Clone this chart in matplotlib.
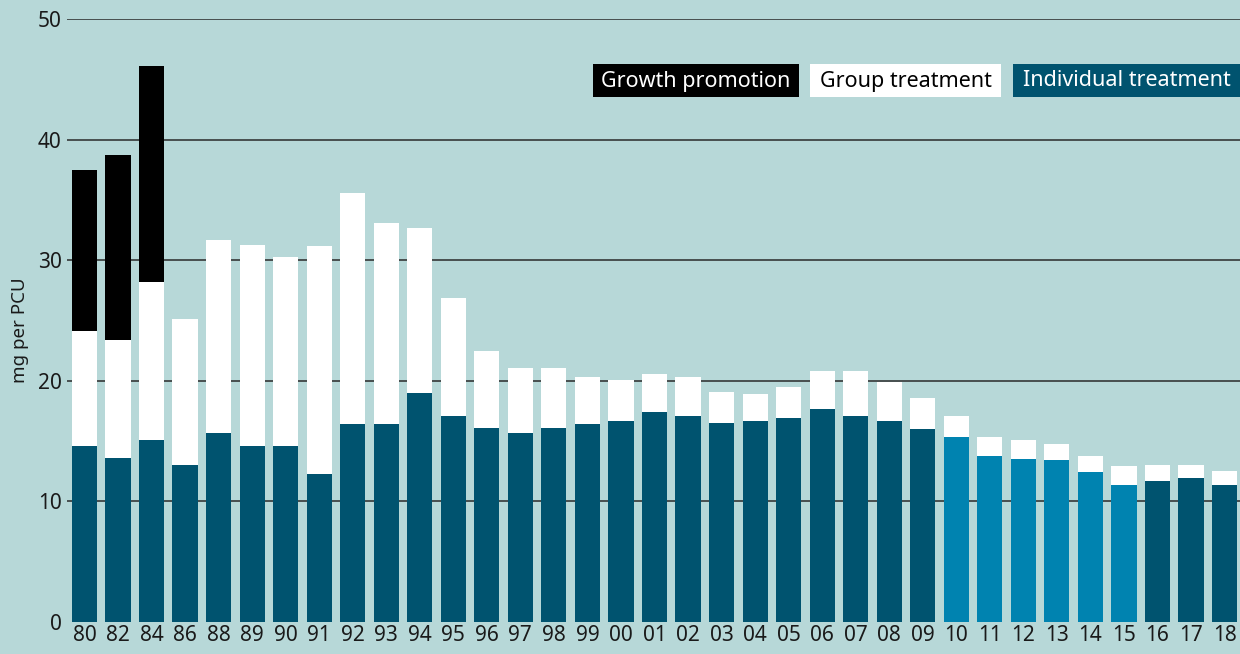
import numpy as np
import matplotlib.pyplot as plt
from matplotlib.patches import Rectangle

# data (mg per PCU)
years = ['80', '82', '84', '86', '88', '89', '90', '91', '92', '93', '94', '95',
         '96', '97', '98', '99', '00', '01', '02', '03', '04', '05', '06', '07',
         '08', '09', '10', '11', '12', '13', '14', '15', '16', '17', '18']
individual = [14.6, 13.6, 15.1, 13.0, 15.7, 14.6, 14.6, 12.3, 16.4, 16.4, 19.0, 17.1,
              16.1, 15.7, 16.1, 16.4, 16.7, 17.4, 17.1, 16.5, 16.7, 16.9, 17.7, 17.1,
              16.7, 16.0, 15.3, 13.8, 13.5, 13.4, 12.4, 11.4, 11.7, 11.9, 11.4]
group_top = [24.1, 23.4, 28.2, 25.1, 31.7, 31.3, 30.3, 31.2, 35.6, 33.1, 32.7, 26.9,
             22.5, 21.1, 21.1, 20.3, 20.1, 20.6, 20.3, 19.1, 18.9, 19.5, 20.8, 20.8,
             19.9, 18.6, 17.1, 15.3, 15.1, 14.8, 13.8, 12.9, 13.0, 13.0, 12.5]
total = [37.5, 38.7, 46.1, 25.1, 31.7, 31.3, 30.3, 31.2, 35.6, 33.1, 32.7, 26.9,
         22.5, 21.1, 21.1, 20.3, 20.1, 20.6, 20.3, 19.1, 18.9, 19.5, 20.8, 20.8,
         19.9, 18.6, 17.1, 15.3, 15.1, 14.8, 13.8, 12.9, 13.0, 13.0, 12.5]
highlight = ['10', '11', '12', '13', '14', '15']

BG = '#b7d8d8'
DARK = '#00536f'
LIGHT = '#0083b0'
TXT = '#1a1a1a'
W, H = 1240, 654

plt.rcParams['font.family'] = ['Noto Sans', 'DejaVu Sans']

group = np.array(group_top) - np.array(individual)
growth = np.array(total) - np.array(group_top)
x = np.arange(len(years))
ind_colors = [LIGHT if y in highlight else DARK for y in years]

fig = plt.figure(figsize=(12.4, 6.54), dpi=100, facecolor=BG)
ax = fig.add_axes([67 / W, 32 / H, 1 - 67 / W, 603 / H])
ax.set_facecolor(BG)

for t in [10, 20, 30, 40, 50]:
    ax.axhline(t, color='#2a2a2a', lw=1.1, zorder=0)

w = 0.75
ax.bar(x, individual, width=w, color=ind_colors, zorder=2)
ax.bar(x, group, width=w, bottom=individual, color='white', zorder=2)
ax.bar(x, growth, width=w, bottom=group_top, color='black', zorder=2)

ax.set_xlim(-0.52, len(years) - 1 + 0.46)
ax.set_ylim(0, 50)
ax.set_yticks([0, 10, 20, 30, 40, 50])
ax.set_xticks(x)
ax.set_xticklabels(years)
ax.tick_params(axis='both', length=0, labelsize=15, labelcolor=TXT)
ax.tick_params(axis='y', pad=4)
ax.tick_params(axis='x', pad=2)
for s in ax.spines.values():
    s.set_visible(False)

fig.text(20 / W, 1 - 330 / H, 'mg per PCU', rotation=90, ha='center', va='center',
         fontsize=13.5, color=TXT)

# legend boxes (pixel extents), the last one runs to the right edge
legend = [('Growth promotion', 'black', 'white', 593, 799),
          ('Group treatment', 'white', 'black', 810, 1001),
          ('Individual treatment', DARK, 'white', 1013, 1240)]
for label, fc, tc, x0, x1 in legend:
    fig.patches.append(Rectangle((x0 / W, 1 - 97 / H), (x1 - x0) / W, 33 / H,
                                 transform=fig.transFigure, fc=fc, ec='none'))
    fig.text((x0 + x1) / 2 / W, 1 - 81 / H, label, ha='center', va='center',
             fontsize=15.5, color=tc, fontweight='semibold')

fig.savefig('out.png', dpi=100, facecolor=BG)
